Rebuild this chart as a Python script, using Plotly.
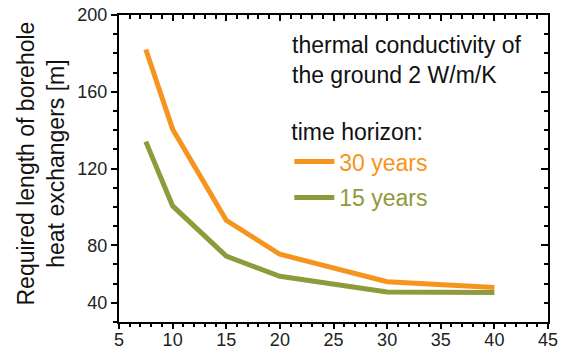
import plotly.graph_objects as go

# data
spacing_m = [7.5, 10, 15, 20, 30, 40]
length_30y = [182, 140.5, 93, 75.3, 61, 58]
length_15y = [134, 100.5, 74.3, 63.8, 55.7, 55.4]
series_names = ["30 years", "15 years"]
series_colors = ["#F7941D", "#8F9A3A"]
y_tickvals = [50, 80, 120, 160, 200]
y_ticktext = ["40", "80", "120", "160", "200"]
x_tickvals = [5, 10, 15, 20, 25, 30, 35, 40, 45]
note_text = "thermal conductivity of<br>the ground 2 W/m/K"
legend_title = "time horizon:"
y_title = "Required length of borehole<br>heat exchangers [m]"

FONT = "Liberation Sans, Arial, sans-serif"

fig = go.Figure()
for name, ys, col in zip(series_names, [length_30y, length_15y], series_colors):
    fig.add_trace(go.Scatter(
        x=spacing_m, y=ys, mode="lines",
        line=dict(color=col, width=5),
        name=f"<span style='color:{col}'>{name}</span>",
        legendgroup=name,
    ))
# helper trace so the mirror axes get drawn
fig.add_trace(go.Scatter(x=[None], y=[None], xaxis="x2", yaxis="y2",
                         showlegend=False, hoverinfo="skip"))

axis_common = dict(showline=True, linecolor="black", linewidth=2,
                   showgrid=False, zeroline=False, tickcolor="black",
                   tickwidth=1.5, automargin=False, ticklabeloverflow="allow",
                   tickfont=dict(family=FONT, size=18, color="#222"))

fig.update_layout(
    width=568, height=350,
    margin=dict(l=119, r=20, t=15, b=28, autoexpand=False),
    plot_bgcolor="white", paper_bgcolor="white",
    font=dict(family=FONT, size=23, color="#111"),
    xaxis=dict(range=[5, 45], tickvals=x_tickvals, ticks="outside", ticklen=5,
               ticklabelstandoff=-5,
               minor=dict(dtick=1, tick0=5, ticks="outside", ticklen=3,
                          tickcolor="black", tickwidth=1.5),
               **axis_common),
    xaxis2=dict(range=[5, 45], overlaying="x", side="top", tickvals=x_tickvals,
                ticks="inside", ticklen=6, showticklabels=False,
                minor=dict(dtick=1, tick0=5, ticks="inside", ticklen=4,
                           tickcolor="black", tickwidth=1.5),
                **axis_common),
    yaxis=dict(range=[40, 200], tickvals=y_tickvals, ticktext=y_ticktext,
               ticks="outside", ticklen=6,
               minor=dict(dtick=10, tick0=40, ticks="outside", ticklen=4,
                          tickcolor="black", tickwidth=1.5),
               **axis_common),
    yaxis2=dict(range=[40, 200], overlaying="y", side="right",
                tick0=40, dtick=40, ticks="inside", ticklen=7,
                showticklabels=False,
                minor=dict(dtick=10, tick0=40, ticks="inside", ticklen=4,
                           tickcolor="black", tickwidth=1.5),
                **axis_common),
    showlegend=True,
    legend=dict(
        x=0.397, y=0.690, xanchor="left", yanchor="top",
        bgcolor="rgba(0,0,0,0)", borderwidth=0,
        font=dict(family=FONT, size=23),
        title=dict(text=legend_title,
                   font=dict(family=FONT, size=23, color="#111")),
        tracegroupgap=3, itemwidth=40,
    ),
    annotations=[
        dict(text=y_title, textangle=-90, xref="paper", yref="paper",
             x=-0.182, y=0.516, xanchor="center", yanchor="middle",
             showarrow=False, font=dict(family=FONT, size=23, color="#111")),
        dict(text=note_text, xref="paper", yref="paper", align="left",
             x=0.398, y=0.852, xanchor="left", yanchor="middle",
             showarrow=False, font=dict(family=FONT, size=23, color="#111")),
    ],
)

# remove the page's default body margin so the figure fills the window
fig.write_html("out.html",
               config={"displayModeBar": False},
               post_script="document.body.style.margin='0';")
